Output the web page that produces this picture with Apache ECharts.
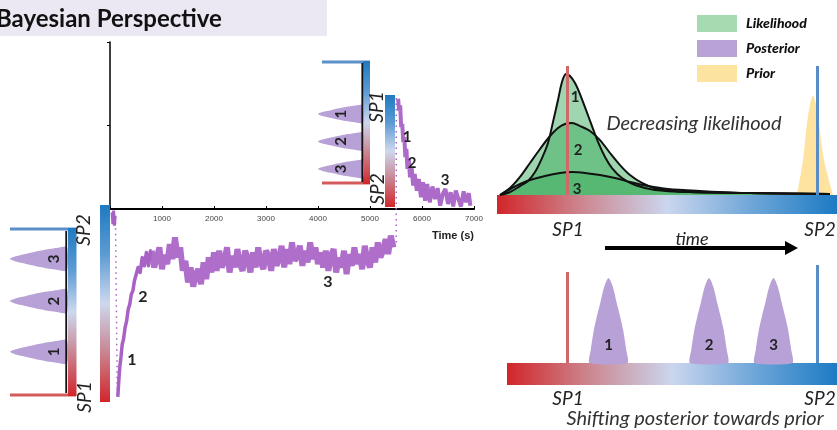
<!DOCTYPE html>
<html><head><meta charset="utf-8">
<script src="https://cdn.jsdelivr.net/npm/echarts@6/dist/echarts.min.js"></script>
<style>html,body{margin:0;padding:0;background:#fff}#c{width:837px;height:430px}</style>
</head><body><div id="c"></div>
<script>
// ---------- time-series data (time in s, signal in axis units) ----------
const blobT = [40, 55, 70, 85, 100];
const blobV = [-0.04, -0.18, -0.02, -0.20, -0.08];
const riseT = [150,170,190,210,235,260,290,320,350,380,410,440,470,500,540,580,620,660,700,740,780,800];
const riseV = [-2.25,-2.05,-1.88,-1.78,-1.62,-1.56,-1.42,-1.34,-1.20,-1.14,-1.02,-0.98,-0.86,-0.84,-0.70,-0.76,-0.58,-0.68,-0.52,-0.68,-0.50,-0.50];
const plateauStart = 800, plateauStep = 50;
const plateauV = [
 -0.50,-0.70,-0.58,-0.46,-0.72,-0.55,-0.66,
 -0.42,-0.60,-0.34,-0.58,
 -0.46,-0.74,-0.62,
 -0.88,-0.70,-0.93,-0.78,-0.72,-0.90,
 -0.64,-0.84,-0.58,-0.76,-0.52,-0.74,
 -0.50,-0.70,-0.62,-0.46,-0.76,-0.56,-0.70,-0.48,-0.66,-0.74,-0.50,-0.60,-0.76,
 -0.52,-0.70,-0.46,-0.64,-0.72,-0.50,-0.56,-0.74,-0.48,-0.68,-0.60,-0.44,-0.70,
 -0.48,-0.66,-0.40,-0.62,-0.56,-0.44,-0.68,-0.50,-0.64,-0.40,-0.60,-0.46,-0.66,-0.52,
 -0.70,-0.50,-0.74,-0.56,-0.48,-0.76,-0.58,-0.70,-0.50,-0.78,-0.54,-0.68,
 -0.46,-0.66,-0.54,-0.72,-0.44,-0.62,-0.70,-0.46,-0.64,
 -0.40,-0.58,-0.50,-0.36,-0.54,-0.32,-0.46];
const decayT = [5540,5560,5580,5600,5620,5640,5660,5680,5700,5720,5745,5770,5800,5830,5860,5900,5940,5980,6020,6060,6100,6150,6200,6250,6300,6350,6400,6450,6500,6550,6600,6650,6700,6750,6800,6850,6900,6930];
const decayV = [1.32,1.18,1.24,0.98,1.02,0.80,0.86,0.62,0.72,0.48,0.60,0.38,0.50,0.28,0.42,0.22,0.36,0.14,0.32,0.10,0.30,0.08,0.27,0.12,0.25,0.04,0.18,0.24,0.06,0.20,0.03,0.22,0.12,0.03,0.21,0.08,0.19,0.04];
const jump1T = [105, 140], jump1V = [-0.10, -2.25];
const jump2T = [5505, 5505], jump2V = [-0.40, 1.36];

// ---------- right panels (position along SP1→SP2 bar, density) ----------
const spPos = [7.0, 32.0];
const like1U = [0.3,1.3,2.3,3.1,3.8,4.5,5.1,5.6,6.1,6.5,6.9,7.3,7.8,8.3,8.9,9.5,10.1,10.8,11.5,12.5,13.8,15.8,19.3,25.3,33.3];
const like1V = [0,0.017,0.051,0.08,0.131,0.211,0.297,0.417,0.543,0.646,0.691,0.68,0.64,0.577,0.486,0.394,0.303,0.217,0.154,0.097,0.057,0.029,0.017,0.011,0.006];
const like2U = [0.3,1.3,2.3,3.3,4.3,5.3,6.1,6.8,7.5,8.3,9.3,10.3,11.3,12.3,13.3,14.5,16.1,19.3,25.3,33.3];
const like2V = [0,0.04,0.103,0.183,0.263,0.337,0.383,0.406,0.411,0.394,0.366,0.314,0.24,0.171,0.114,0.069,0.034,0.017,0.011,0.006];
const like3U = [0.3,1.5,3.0,4.8,6.3,7.5,8.8,10.3,11.8,13.3,15.1,17.1,20.3,25.3,33.3];
const like3V = [0,0.04,0.08,0.109,0.126,0.131,0.126,0.114,0.097,0.074,0.051,0.034,0.023,0.011,0.006];
const priorU = [30.0,30.6,31.1,31.6,32.1,32.7,33.6];
const priorV = [0,0.2,0.45,0.57,0.45,0.2,0];
const postCenters = [11.15, 21.2, 27.65];
const postLabels = ['1','2','3'];
// inset posteriors (position along SP axis 0..1)
const leftInsetPos = [0.26, 0.566, 0.82];
const upperInsetPos = [0.57, 0.343, 0.116];
const insetLabels = ['1','2','3'];
// bell outline (offset from centre, relative height)
const bellDx = [-1,-0.93,-0.77,-0.6,-0.43,-0.33,-0.22,-0.1,0,0.1,0.22,0.33,0.43,0.6,0.77,0.93,1];
const bellDy = [0,0.16,0.39,0.56,0.71,0.81,0.9,0.97,1,0.97,0.9,0.81,0.71,0.56,0.39,0.16,0];

const zip = (a,b)=>a.map((x,i)=>[x,b[i]]);
const plateau = plateauV.map((v,i)=>[plateauStart + i*plateauStep, v]);

const PURPLE = '#a862c6', BELL = '#b8a1d6', GREEN = '#3fae5f';
const vGrad = {type:'linear',x:0,y:0,x2:0,y2:1,colorStops:[
  {offset:0,color:'#1f7ac2'},{offset:0.25,color:'#5c9bd4'},{offset:0.5,color:'#cdd8ee'},
  {offset:0.72,color:'#c98e9c'},{offset:1,color:'#d1262a'}]};
const hGrad = {type:'linear',x:0,y:0,x2:1,y2:0,colorStops:[
  {offset:0,color:'#d1262a'},{offset:0.25,color:'#cc8790'},{offset:0.5,color:'#cbd6ee'},
  {offset:0.75,color:'#6ea6d8'},{offset:1,color:'#1c7bc4'}]};

function hBell(hw, numAt){
  return function(params, api){
    const c = api.value(0);
    const pts = bellDx.map((d,i)=>api.coord([bellDy[i], c + d*hw]));
    const np = api.coord([numAt, c]);
    return {type:'group', children:[
      {type:'polygon', shape:{points:pts, smooth:0.2}, style:{fill:BELL}},
      {type:'text', x:np[0], y:np[1], rotation:Math.PI/2,
       style:{text:insetLabels[params.dataIndex], font:'bold 15px Lato', fill:'#222', align:'center', verticalAlign:'middle'}}
    ]};
  };
}
function vBell(hw, peak, numAt){
  return function(params, api){
    const c = api.value(0);
    const pts = bellDx.map((d,i)=>api.coord([c + d*hw, bellDy[i]*peak]));
    const np = api.coord([c, numAt]);
    return {type:'group', children:[
      {type:'polygon', shape:{points:pts, smooth:0.2}, style:{fill:BELL}},
      {type:'text', x:np[0], y:np[1],
       style:{text:postLabels[params.dataIndex], font:'bold 15px Lato', fill:'#222', align:'center', verticalAlign:'middle'}}
    ]};
  };
}

const chart = echarts.init(document.getElementById('c'), null, {renderer:'canvas'});
const hid = {show:false};
const gridBase = {outerBoundsMode:'none', containLabel:false};
const T = (text, x, y, font, extra) => Object.assign({type:'text', x, y, z:100,
   style:{text, font, fill:'#222', align:'center', verticalAlign:'middle'}}, extra||{});
const R = (x,y,w,h,fill,z) => ({type:'rect', z:z||1, shape:{x,y,width:w,height:h}, style:{fill}});
const likeStyle = {symbol:'none', smooth:0.3, itemStyle:{color:'#a6dbb2'},
  lineStyle:{color:'#111', width:2}, areaStyle:{color:GREEN, opacity:0.5}};

chart.setOption({
  animation:false,
  backgroundColor:'#fff',
  grid:[
    Object.assign({left:110, top:42, width:364, height:167}, gridBase),
    Object.assign({left:110, top:42, width:364, height:367.4}, gridBase),
    Object.assign({left:497, top:20, width:340, height:175}, gridBase),
    Object.assign({left:497, top:263, width:340, height:100}, gridBase),
    Object.assign({left:10, top:229, width:57, height:166}, gridBase),
    Object.assign({left:318, top:62, width:45, height:121}, gridBase)
  ],
  xAxis:[
    {gridIndex:0, type:'value', min:0, max:7000, interval:1000,
     axisLine:{lineStyle:{color:'#000', width:2}},
     axisTick:{show:true, inside:true, length:3, lineStyle:{color:'#000'}},
     axisLabel:{fontSize:8, color:'#444', fontFamily:'Liberation Sans', margin:6,
       formatter:v=> v===0 ? '' : String(v)}, splitLine:hid},
    {gridIndex:1, type:'value', min:0, max:7000, show:false},
    {gridIndex:2, type:'value', min:0, max:34, show:false},
    {gridIndex:3, type:'value', min:0, max:34, show:false},
    {gridIndex:4, type:'value', min:0, max:1, inverse:true, show:false},
    {gridIndex:5, type:'value', min:0, max:1, inverse:true, show:false}
  ],
  yAxis:[
    {gridIndex:0, type:'value', min:0, max:2, interval:1,
     axisLine:{show:true, onZero:false, lineStyle:{color:'#000', width:1.5}},
     axisTick:{show:true, length:3, lineStyle:{color:'#000'}},
     axisLabel:hid, splitLine:hid},
    {gridIndex:1, type:'value', min:-2.4, max:2, show:false},
    {gridIndex:2, type:'value', min:0, max:1, show:false},
    {gridIndex:3, type:'value', min:0, max:1, show:false},
    {gridIndex:4, type:'value', min:0, max:1, show:false},
    {gridIndex:5, type:'value', min:0, max:1, show:false}
  ],
  legend:{
    orient:'vertical', left:692, top:10, itemWidth:40, itemHeight:17, itemGap:8,
    selectedMode:false,
    itemStyle:{borderWidth:0},
    textStyle:{fontFamily:'Lato', fontWeight:900, fontStyle:'italic', fontSize:14, color:'#111', padding:[0,0,0,4]},
    data:[
      {name:'Likelihood', icon:'rect', itemStyle:{color:'#a6dbb2'}},
      {name:'Posterior', icon:'rect', itemStyle:{color:'#b9a2d6'}},
      {name:'Prior', icon:'rect', itemStyle:{color:'#fce4a0'}}
    ]
  },
  series:[
    // time series
    {type:'line', xAxisIndex:1, yAxisIndex:1, data:zip(blobT,blobV), symbol:'none', lineStyle:{color:PURPLE, width:3}},
    {type:'line', xAxisIndex:1, yAxisIndex:1, data:zip(jump1T,jump1V), symbol:'none', lineStyle:{color:PURPLE, width:1.5, type:[1.5,4]}},
    {type:'line', xAxisIndex:1, yAxisIndex:1, data:zip(riseT,riseV), symbol:'none', lineStyle:{color:PURPLE, width:3.5, join:'round'}},
    {type:'line', xAxisIndex:1, yAxisIndex:1, data:plateau, symbol:'none', lineStyle:{color:PURPLE, width:6, join:'bevel', opacity:0.92}},
    {type:'line', xAxisIndex:1, yAxisIndex:1, data:zip(jump2T,jump2V), symbol:'none', lineStyle:{color:PURPLE, width:1.5, type:[1.5,4]}},
    {type:'line', xAxisIndex:1, yAxisIndex:1, data:zip(decayT,decayV), symbol:'none', lineStyle:{color:PURPLE, width:4, join:'bevel', opacity:0.95}},
    // likelihoods
    Object.assign({name:'Likelihood', type:'line', xAxisIndex:2, yAxisIndex:2, data:zip(like1U,like1V)}, likeStyle),
    Object.assign({name:'Likelihood', type:'line', xAxisIndex:2, yAxisIndex:2, data:zip(like2U,like2V)}, likeStyle),
    Object.assign({name:'Likelihood', type:'line', xAxisIndex:2, yAxisIndex:2, data:zip(like3U,like3V)}, likeStyle),
    {name:'Prior', type:'line', xAxisIndex:2, yAxisIndex:2, data:zip(priorU,priorV), symbol:'none',
     smooth:0.3, itemStyle:{color:'#fce4a0'}, lineStyle:{width:0}, areaStyle:{color:'#fde29a', opacity:0.95}},
    // SP lines on right panels
    {type:'line', xAxisIndex:2, yAxisIndex:2, data:[], z:6,
     markLine:{silent:true, symbol:['none','none'], label:{show:false},
       data:[[{coord:[spPos[0],0], lineStyle:{color:'#cf6868', width:3, type:'solid'}},{coord:[spPos[0],0.737]}],
             [{coord:[spPos[1],0], lineStyle:{color:'#5a8dc6', width:3, type:'solid'}},{coord:[spPos[1],0.737]}]]}},
    {type:'line', xAxisIndex:3, yAxisIndex:3, data:[], z:6,
     markLine:{silent:true, symbol:['none','none'], label:{show:false},
       data:[[{coord:[spPos[0],0], lineStyle:{color:'#cf6868', width:3, type:'solid'}},{coord:[spPos[0],0.91]}],
             [{coord:[spPos[1],0], lineStyle:{color:'#5a8dc6', width:3, type:'solid'}},{coord:[spPos[1],0.98]}]]}},
    // posteriors
    {name:'Posterior', type:'custom', xAxisIndex:3, yAxisIndex:3, itemStyle:{color:'#b9a2d6'},
     data:postCenters.map(c=>[c]), renderItem:vBell(1.9, 0.85, 0.18)},
    {type:'custom', xAxisIndex:4, yAxisIndex:4, data:leftInsetPos.map(c=>[c]), renderItem:hBell(0.072, 0.23)},
    {type:'custom', xAxisIndex:5, yAxisIndex:5, data:upperInsetPos.map(c=>[c]), renderItem:hBell(0.075, 0.49)}
  ],
  graphic:[
    R(0,0,327,36,'#ece8f3',0),
    T('Bayesian Perspective', -4, 19, 'bold 24px Lato', {style:{text:'Bayesian Perspective', font:'bold 24px Lato', fill:'#111', align:'left', verticalAlign:'middle'}}),
    // left inset frame
    R(10,227.5,66,3,'#5b8fc7'), R(10,393.5,66,3,'#d45b5b'),
    R(68,228,8.5,168,vGrad,2), R(65.3,231,1.8,162,'#111',3),
    // main colour bar
    R(100,205,10,197,vGrad,2),
    // upper inset frame
    R(322,60.5,48,3,'#5b8fc7'), R(322,181.5,48,3,'#d45b5b'),
    R(363,61,7,123,vGrad,2), R(361.4,63,1.8,119,'#111',3),
    R(385,95,10,112,vGrad,2),
    // right bars
    R(497,195,340,19,hGrad,2), R(507,363,330,22,hGrad,2),
    // arrow
    {type:'polyline', z:5, shape:{points:[[605,248],[788,248]]}, style:{stroke:'#000', lineWidth:4}},
    {type:'polygon', z:5, shape:{points:[[785,241],[798,248],[785,255]]}, style:{fill:'#000'}},
    // texts
    T('Time (s)', 453, 236, 'bold 11px "Liberation Sans"'),
    T('1', 132, 360, 'bold 16px Lato'), T('2', 143, 297, 'bold 16px Lato'), T('3', 328, 282, 'bold 16px Lato'),
    T('1', 407, 137, 'bold 15px Lato'), T('2', 412, 163, 'bold 15px Lato'), T('3', 445, 180, 'bold 15px Lato'),
    T('SP2', 84, 230, 'italic 19px Lato', {rotation:Math.PI/2}),
    T('SP1', 85, 397, 'italic 19px Lato', {rotation:Math.PI/2}),
    T('SP1', 377, 107, 'italic 19px Lato', {rotation:Math.PI/2}),
    T('SP2', 378, 189, 'italic 19px Lato', {rotation:Math.PI/2}),
    T('1', 575, 97, 'bold 15px Lato'), T('2', 578, 150, 'bold 15px Lato'), T('3', 577, 189, 'bold 15px Lato'),
    T('Decreasing likelihood', 694, 124, 'italic 20px Lato', {style:{text:'Decreasing likelihood', font:'italic 20px Lato', fill:'#333', align:'center', verticalAlign:'middle'}}),
    T('SP1', 568, 230, 'italic 19px Lato'), T('SP2', 820, 230, 'italic 19px Lato'),
    T('time', 692, 239, 'italic 18px Lato'),
    T('SP1', 568, 399, 'italic 19px Lato'), T('SP2', 820, 399, 'italic 19px Lato'),
    T('Shifting posterior towards prior', 695, 419, 'italic 20px Lato', {style:{text:'Shifting posterior towards prior', font:'italic 20px Lato', fill:'#333', align:'center', verticalAlign:'middle'}})
  ]
});
</script></body></html>
